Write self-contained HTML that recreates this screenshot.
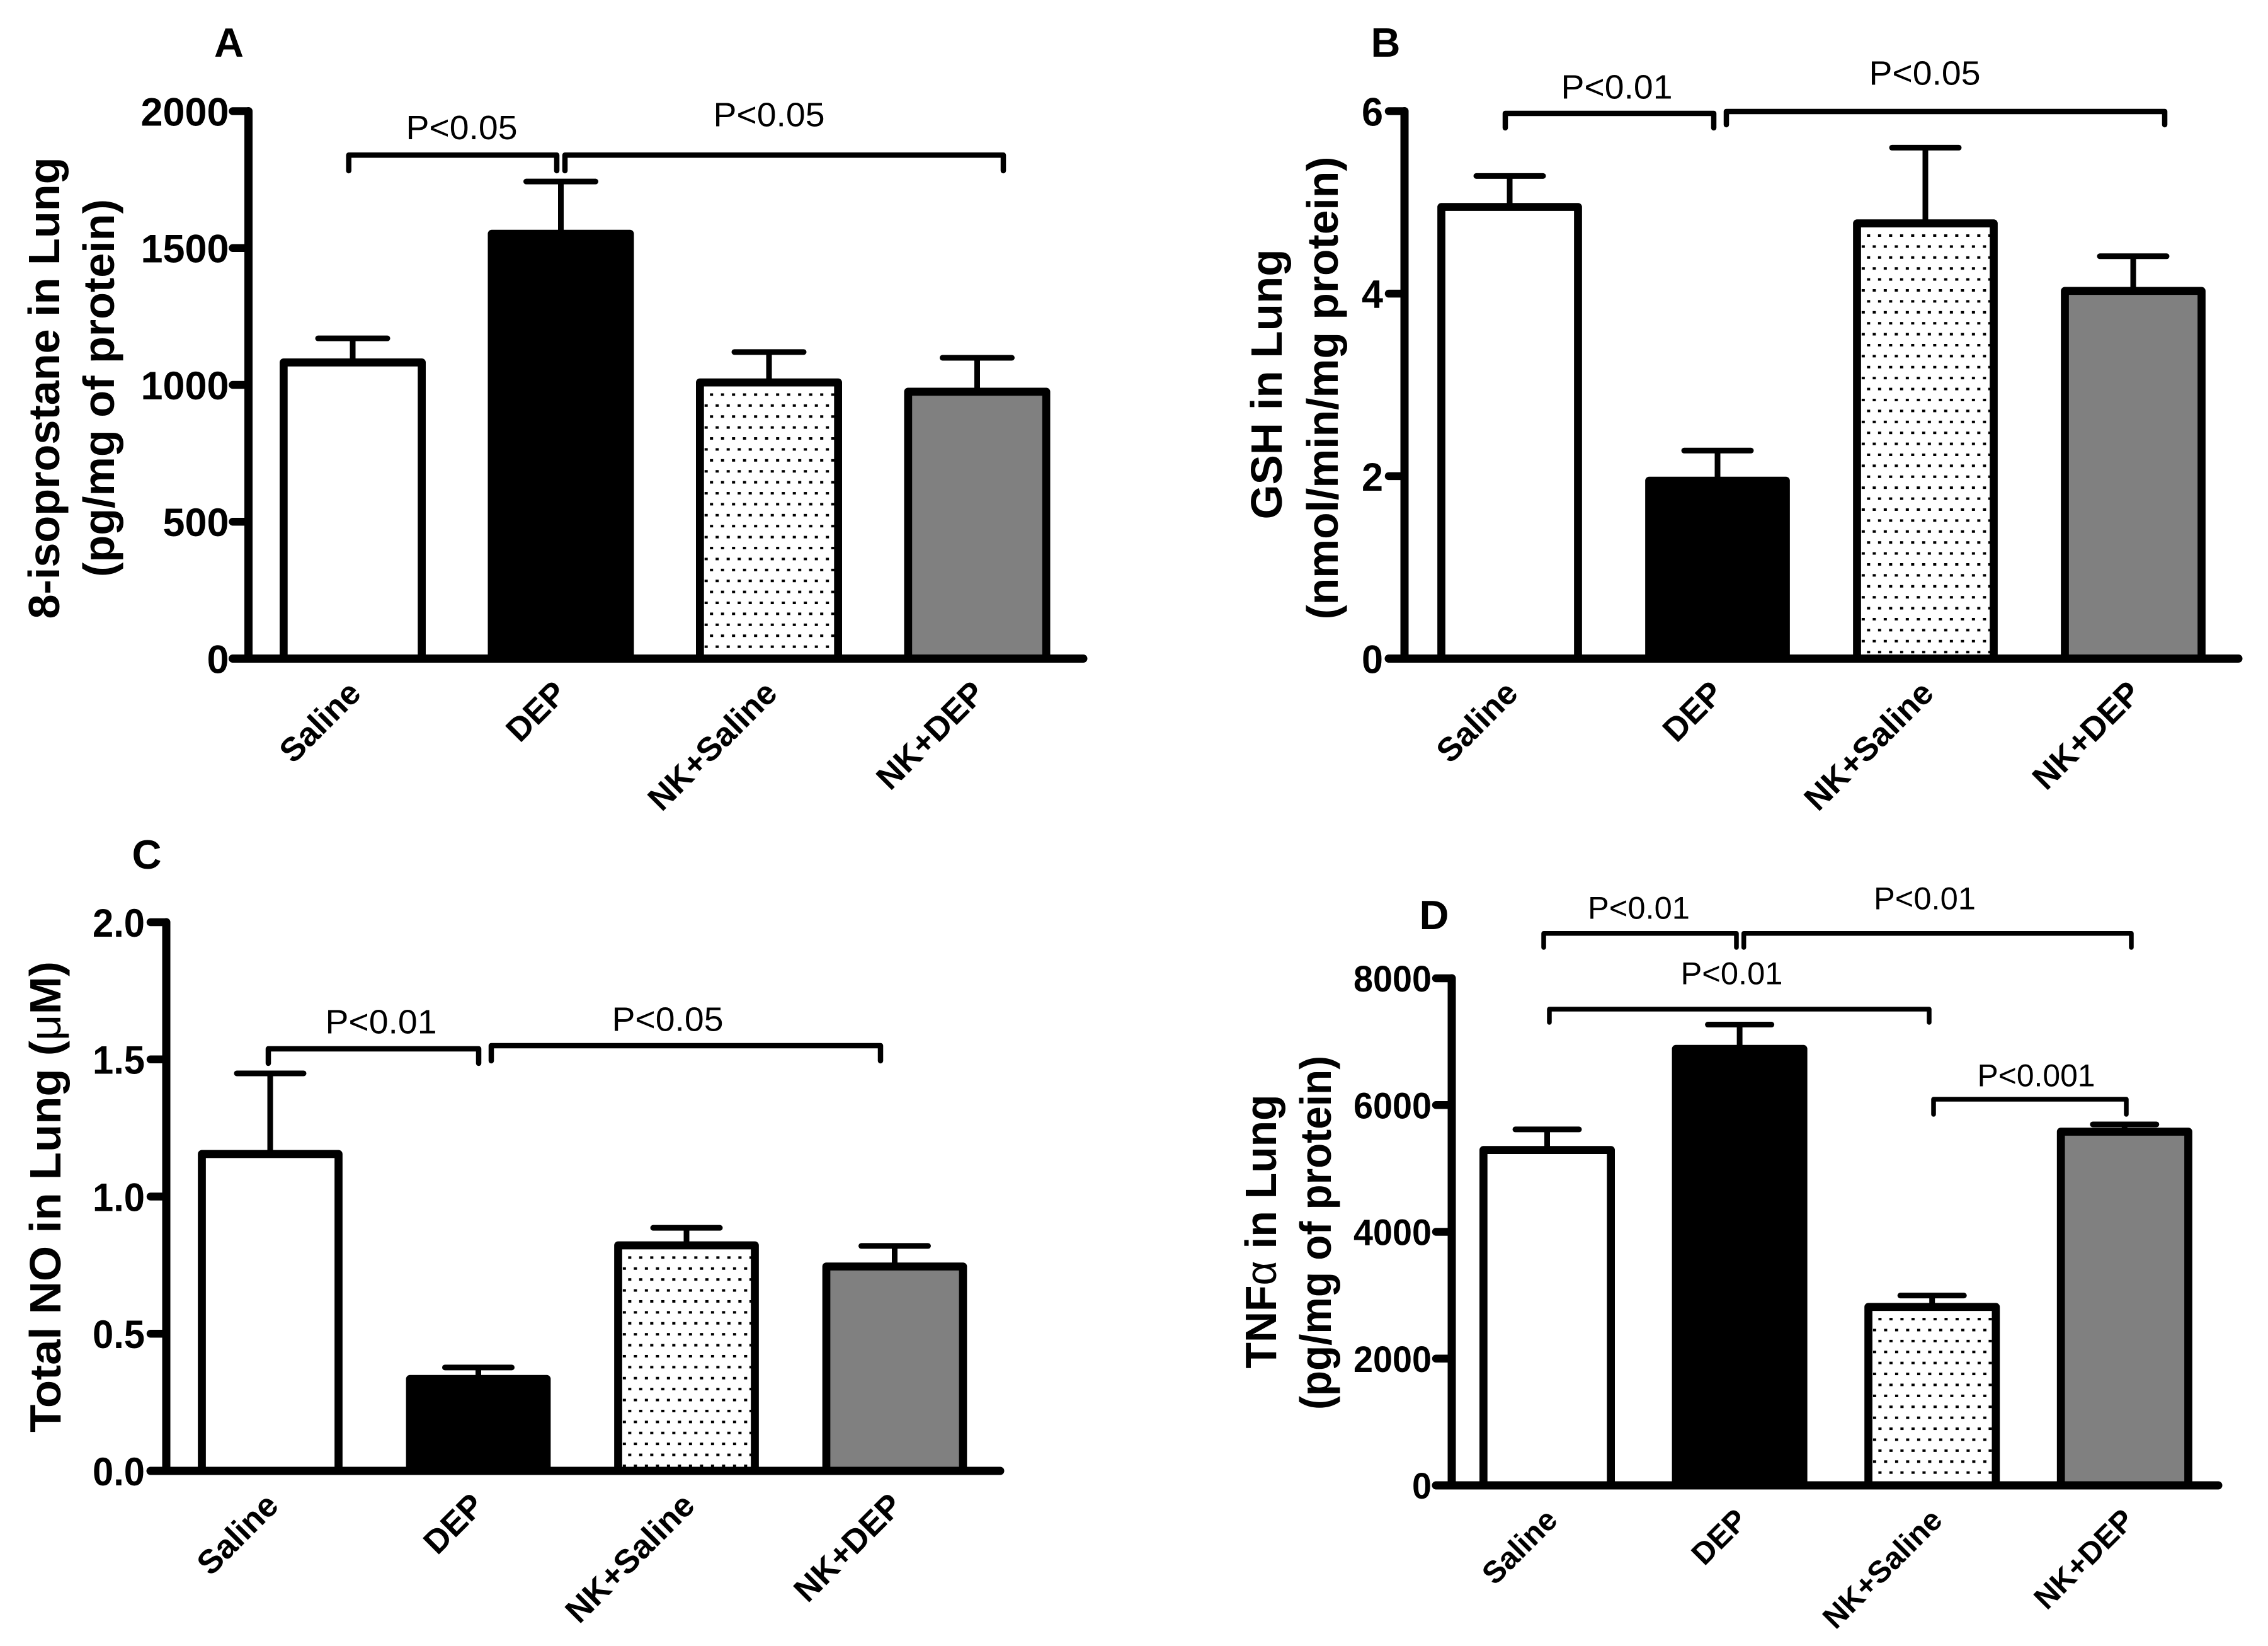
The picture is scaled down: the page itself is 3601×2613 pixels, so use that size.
<!DOCTYPE html>
<html lang="en">
<head>
<meta charset="utf-8">
<title>Lung oxidative stress and inflammation markers</title>
<style>
html,body{margin:0;padding:0;background:#fff;}
svg{display:block;}
text{font-family:"Liberation Sans",Arial,sans-serif;fill:#000;}
</style>
</head>
<body>
<svg id="figure" xmlns="http://www.w3.org/2000/svg" width="3601" height="2613" viewBox="0 0 3601 2613">
<rect x="0" y="0" width="3601" height="2613" fill="#fff"/>
</svg>
<script>
// ---- data ----
const categories = ['Saline', 'DEP', 'NK+Saline', 'NK+DEP'];
const fills = ['#ffffff', '#000000', 'dots', '#808080'];
const labelNudges = [16, 12, 16, 15];

const aTicks = [0, 500, 1000, 1500, 2000];
const aTickLabels = ['0', '500', '1000', '1500', '2000'];
const aValues = [1082, 1552, 1009, 975];
const aErrors = [88, 191, 111, 124];

const bTicks = [0, 2, 4, 6];
const bTickLabels = ['0', '2', '4', '6'];
const bValues = [4.95, 1.95, 4.77, 4.03];
const bErrors = [0.34, 0.33, 0.83, 0.38];

const cTicks = [0, 0.5, 1, 1.5, 2];
const cTickLabels = ['0.0', '0.5', '1.0', '1.5', '2.0'];
const cValues = [1.155, 0.335, 0.822, 0.745];
const cErrors = [0.294, 0.042, 0.064, 0.075];

const dTicks = [0, 2000, 4000, 6000, 8000];
const dTickLabels = ['0', '2000', '4000', '6000', '8000'];
const dValues = [5291, 6886, 2815, 5580];
const dErrors = [325, 383, 180, 115];

// ---- drawing ----
const NS = 'http://www.w3.org/2000/svg';
const svg = document.getElementById('figure');
const defs = document.createElementNS(NS, 'defs');
svg.appendChild(defs);
let patternCount = 0;

function make(tag, attrs, parent) {
  const node = document.createElementNS(NS, tag);
  for (const k in attrs) node.setAttribute(k, attrs[k]);
  (parent || svg).appendChild(node);
  return node;
}

function makeText(str, x, y, size, weight, anchor, rotation, length, parent) {
  const node = make('text', {
    x: 0, y: 0,
    transform: 'translate(' + x + ',' + y + ') rotate(' + rotation + ')',
    'font-size': size,
    'font-weight': weight,
    'text-anchor': anchor
  }, parent);
  if (length) {
    node.setAttribute('textLength', length);
    node.setAttribute('lengthAdjust', 'spacingAndGlyphs');
  }
  if (Array.isArray(str)) {
    node.appendChild(document.createTextNode(str[0]));
    const greek = make('tspan', {'font-weight': 'normal'}, node);
    greek.textContent = str[1];
    node.appendChild(document.createTextNode(str[2]));
  } else {
    node.textContent = str;
  }
  return node;
}

function dotPattern(innerLeft, innerTop) {
  patternCount += 1;
  const id = 'dots-' + patternCount;
  const p = make('pattern', {
    id: id, patternUnits: 'userSpaceOnUse',
    x: innerLeft, y: innerTop + 11, width: 17.5, height: 34.8
  }, defs);
  make('rect', {x: 0, y: 0, width: 17.5, height: 34.8, fill: '#fff'}, p);
  make('rect', {x: 9.5, y: 0, width: 5, height: 4, fill: '#000', 'shape-rendering': 'crispEdges'}, p);
  make('rect', {x: 1, y: 17.4, width: 5, height: 4, fill: '#000', 'shape-rendering': 'crispEdges'}, p);
  return 'url(#' + id + ')';
}

function drawPanel(cfg, ticks, tickLabels, values, errors) {
  const g = make('g', {});
  
  

  const yScale = v => cfg.y0 + (cfg.yTop - cfg.y0) * (v / ticks[ticks.length - 1]);
  const xScale = i => cfg.x0 + cfg.step * i;

  values.forEach((v, i) => {
    const cx = xScale(i);
    const top = yScale(v);
    const capY = yScale(v + errors[i]);
    const bw = cfg.barW;

    const stem = make('line', {x1: cx, x2: cx, y1: top, y2: capY, stroke: '#000', 'stroke-width': 9}, g);
    
    

    const cap = make('line', {x1: cx - cfg.capW, x2: cx + cfg.capW, y1: capY, y2: capY, stroke: '#000', 'stroke-width': 9, 'stroke-linecap': 'round'}, g);
    
    

    const fill = fills[i] === 'dots' ? dotPattern(cx - bw / 2 + 6.35, top + 6.35) : fills[i];
    const bar = make('rect', {
      x: cx - bw / 2, y: top, width: bw, height: cfg.y0 - top,
      fill: fill, stroke: '#000', 'stroke-width': 12.7, 'stroke-linejoin': 'round'
    }, g);
    
    

    const lab = makeText(categories[i], cx + labelNudges[i] + cfg.labelShift, cfg.y0 + 58, cfg.labelSize, 'bold', 'end', -45, null, g);
    
    
  });

  const yAxis = make('line', {x1: cfg.axisX, x2: cfg.axisX, y1: yScale(ticks[ticks.length - 1]), y2: cfg.y0, stroke: '#000', 'stroke-width': 13, 'stroke-linecap': 'round'}, g);
  
  

  const xAxis = make('line', {x1: cfg.axisX - 25, x2: cfg.xEnd, y1: cfg.y0, y2: cfg.y0, stroke: '#000', 'stroke-width': 13, 'stroke-linecap': 'round'}, g);
  
  

  ticks.forEach((t, i) => {
    const y = yScale(t);
    const tick = make('line', {x1: cfg.axisX - 25, x2: cfg.axisX, y1: y, y2: y, stroke: '#000', 'stroke-width': 12.5, 'stroke-linecap': 'round'}, g);
    
    

    const s = tickLabels[i];
    const w = s.replace('.', '').length * cfg.digitW + (s.indexOf('.') >= 0 ? 15 : 0);
    const label = makeText(s, cfg.axisX - cfg.tickGap, y + cfg.tickSize * 0.365, cfg.tickSize, 'bold', 'end', 0, w, g);
    
    
  });

  cfg.titles.forEach(tt => {
    const title = makeText(tt.text, tt.x, tt.y, 70, 'bold', 'middle', -90, tt.len, g);
    
    
  });

  const letter = makeText(cfg.letter.text, cfg.letter.x, cfg.letter.y, 65, 'bold', 'middle', 0, null, g);
  
  

  cfg.notes.forEach(n => {
    const bracket = make('path', {
      d: 'M' + n.x1 + ' ' + (n.yEnd - 4) + 'V' + n.y + 'H' + n.x2 + 'V' + (n.yEnd - 4),
      fill: 'none', stroke: '#000', 'stroke-width': cfg.noteStroke,
      'stroke-linejoin': 'round', 'stroke-linecap': 'round'
    }, g);
    
    

    const note = makeText(n.text, n.tx, n.ty + cfg.noteSize * 0.365, cfg.noteSize, 'normal', 'middle', 0, n.text.length === 7 ? 187 : cfg.noteLen, g);
    
    
  });
}

drawPanel({
  id: 'a', y0: 1045.5, yTop: 176.5, axisX: 394.5, xEnd: 1720,
  x0: 560, step: 330.5, barW: 219.3, capW: 55,
  tickSize: 63, digitW: 35, tickGap: 31,
  labelSize: 53, labelShift: 0,
  noteSize: 54, noteLen: 177, noteStroke: 8.5,
  letter: {text: 'A', x: 363.5, y: 90},
  titles: [
    {text: '8-isoprostane in Lung', x: 94, y: 616, len: 733},
    {text: '(pg/mg of protein)', x: 181, y: 616, len: 600}
  ],
  notes: [
    {x1: 553.7, x2: 884, y: 246.3, yEnd: 275, text: 'P<0.05', tx: 733, ty: 201.5},
    {x1: 897, x2: 1593, y: 246.3, yEnd: 275, text: 'P<0.05', tx: 1221, ty: 181}
  ]
}, aTicks, aTickLabels, aValues, aErrors);

drawPanel({
  id: 'b', y0: 1045.5, yTop: 176.5, axisX: 2230, xEnd: 3554,
  x0: 2397, step: 330, barW: 217, capW: 53,
  tickSize: 63, digitW: 34, tickGap: 34,
  labelSize: 53, labelShift: 0,
  noteSize: 54, noteLen: 177, noteStroke: 8.5,
  letter: {text: 'B', x: 2200, y: 90},
  titles: [
    {text: 'GSH in Lung', x: 2035, y: 610, len: 429},
    {text: '(nmol/min/mg protein)', x: 2124, y: 616, len: 735}
  ],
  notes: [
    {x1: 2390, x2: 2721, y: 180, yEnd: 207, text: 'P<0.01', tx: 2567, ty: 137},
    {x1: 2741, x2: 3437, y: 177, yEnd: 202, text: 'P<0.05', tx: 3056, ty: 115}
  ]
}, bTicks, bTickLabels, bValues, bErrors);

drawPanel({
  id: 'c', y0: 2335, yTop: 1464, axisX: 264, xEnd: 1588,
  x0: 429, step: 330.5, barW: 217, capW: 53,
  tickSize: 63, digitW: 34, tickGap: 34,
  labelSize: 53, labelShift: 0,
  noteSize: 54, noteLen: 177, noteStroke: 8.5,
  letter: {text: 'C', x: 233, y: 1379},
  titles: [
    {text: ['Total NO in Lung (', '\u03BC', 'M)'], x: 96, y: 1900, len: 748}
  ],
  notes: [
    {x1: 426, x2: 760, y: 1665, yEnd: 1692, text: 'P<0.01', tx: 605, ty: 1621},
    {x1: 780, x2: 1398, y: 1660, yEnd: 1688, text: 'P<0.05', tx: 1060, ty: 1617}
  ]
}, cTicks, cTickLabels, cValues, cErrors);

drawPanel({
  id: 'd', y0: 2358, yTop: 1553, axisX: 2305, xEnd: 3522,
  x0: 2456.5, step: 305.6, barW: 202.3, capW: 50.5,
  tickSize: 58, digitW: 31, tickGap: 32,
  labelSize: 49, labelShift: 3,
  noteSize: 50, noteLen: 162, noteStroke: 7.5,
  letter: {text: 'D', x: 2277, y: 1475},
  titles: [
    {text: ['TNF', '\u03B1', ' in Lung'], x: 2026, y: 1955, len: 435},
    {text: '(pg/mg of protein)', x: 2113, y: 1957, len: 562}
  ],
  notes: [
    {x1: 2451, x2: 2757, y: 1481.7, yEnd: 1508, text: 'P<0.01', tx: 2602, ty: 1440},
    {x1: 2768.7, x2: 3384, y: 1481.7, yEnd: 1508, text: 'P<0.01', tx: 3056, ty: 1425},
    {x1: 2460, x2: 3063, y: 1602, yEnd: 1627, text: 'P<0.01', tx: 2749.5, ty: 1544},
    {x1: 3070, x2: 3376, y: 1745, yEnd: 1773, text: 'P<0.001', tx: 3233, ty: 1706}
  ]
}, dTicks, dTickLabels, dValues, dErrors);
</script>
</body>
</html>
